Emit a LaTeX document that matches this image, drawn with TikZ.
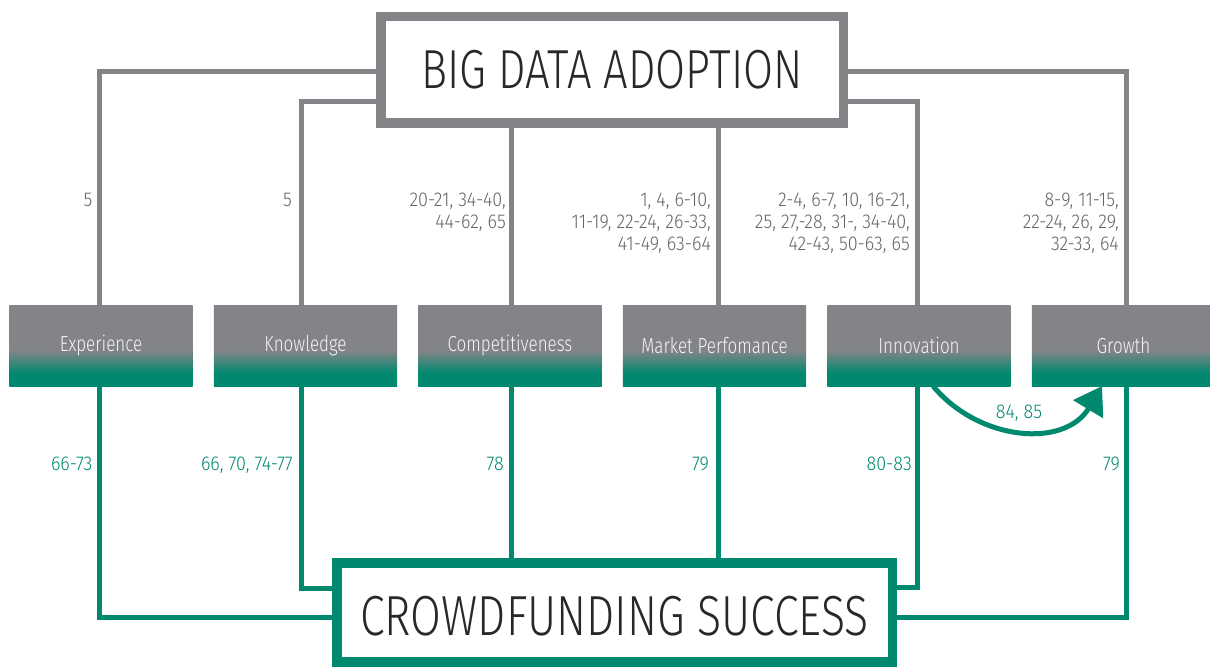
\documentclass[tikz,border=0pt]{standalone}
\usepackage{fontspec}
\usepackage{xcolor}
\usepackage{tikz}
\usetikzlibrary{positioning,arrows.meta}

\newfontfamily\condfont{Fira Sans Light}[FakeStretch=0.78]
\newfontfamily\labelfont{Fira Sans Light}[FakeStretch=0.90]
\newfontfamily\titlefont{Fira Sans Light}[FakeStretch=0.79]

\definecolor{bdgray}{RGB}{131,132,135}
\definecolor{cfgreen}{RGB}{0,137,111}
\definecolor{titlegray}{RGB}{40,40,42}
\definecolor{labelgray}{RGB}{100,101,104}
\pgfdeclareverticalshading{factorshade}{100bp}{color(0bp)=(cfgreen); color(33bp)=(cfgreen); color(47bp)=(bdgray); color(100bp)=(bdgray)}

\begin{document}
\begin{tikzpicture}[
      x=1pt, y=1pt,
      mainbox/.style={rectangle, draw, line width=9.5pt, fill=white, inner sep=0pt, outer sep=0pt, text=titlegray, font=\titlefont\fontsize{55}{60}\selectfont},
      factor/.style={rectangle, shade, shading=factorshade, minimum width=183.4pt, minimum height=81pt, inner sep=0pt, outer sep=0pt, text=white!92!bdgray, font=\condfont\fontsize{21.8}{24}\selectfont},
      gline/.style={draw=bdgray, line width=5pt},
      cline/.style={draw=cfgreen, line width=5pt},
      glabel/.style={anchor=north east, inner sep=0pt, align=right, text=labelgray, font=\labelfont\fontsize{20}{21.8}\selectfont},
      clabel/.style={glabel, text=cfgreen}
    ]

    \useasboundingbox (0,0) rectangle (1210,668);

    \node [mainbox, draw=bdgray, minimum width=462.5pt, minimum height=106.5pt] (bigdata) at (612,598) {BIG DATA ADOPTION};
    \node [mainbox, draw=cfgreen, minimum width=555.5pt, minimum height=99.25pt, text height=47pt, text depth=0pt, font=\titlefont\fontsize{56.5}{60}\selectfont] (crowd) at (614.5,55.6) {CROWDFUNDING SUCCESS};

    \node [factor] (exp) at (101,322.4) {Experience};
    \node [factor, right of=exp, node distance=204.5pt] (know) {Knowledge};
    \node [factor, right of=know, node distance=204.5pt] (comp) {Competitiveness};
    \node [factor, right of=comp, node distance=204.5pt] (market) {Market Perfomance};
    \node [factor, right of=market, node distance=204.5pt] (innov) {Innovation};
    \node [factor, right of=innov, node distance=204.5pt] (growth) {Growth};

    \coordinate (toprow) at (0,475);
    \coordinate (botrow) at (0,211);

    \path [gline] ([yshift=-2pt]bigdata.west) -| ([xshift=-1.8pt]exp.north);
    \path [gline] ([yshift=-32pt]bigdata.west) -| ([xshift=-3.7pt]know.north);
    \path [gline] ([xshift=1.8pt]comp.north) -- ([xshift=1.8pt]comp.north |- bigdata.south);
    \path [gline] ([xshift=4pt]market.north) -- ([xshift=4pt]market.north |- bigdata.south);
    \path [gline] ([yshift=-32pt]bigdata.east) -| ([xshift=-1.5pt]innov.north);
    \path [gline] ([yshift=-2pt]bigdata.east) -| ([xshift=3.2pt]growth.north);

    \path [cline] ([xshift=-1.8pt]exp.south) |- ([yshift=-5.5pt]crowd.west);
    \path [cline] ([xshift=-3.7pt]know.south) |- ([yshift=24pt]crowd.west);
    \path [cline] ([xshift=1.8pt]comp.south) -- ([xshift=1.8pt]comp.south |- crowd.north);
    \path [cline] ([xshift=4pt]market.south) -- ([xshift=4pt]market.south |- crowd.north);
    \path [cline] ([xshift=-1.5pt]innov.south) |- ([yshift=25pt]crowd.east);
    \path [cline] ([xshift=3.2pt]growth.south) |- ([yshift=-5pt]crowd.east);

    \path [cline, -{Triangle[length=27pt,width=34pt]}] ([xshift=14pt]innov.south) to[out=-50, in=-121, looseness=1.1] ([xshift=-21.5pt]growth.south);
    \node [clabel, anchor=center] at ([xshift=100pt, yshift=-26.7pt]innov.south) {84, 85};

    \node [glabel] at ([xshift=-8.4pt]exp.north |- toprow) {5};
    \node [glabel] at ([xshift=-13.5pt]know.north |- toprow) {5};
    \node [glabel] at ([xshift=-4pt]comp.north |- toprow) {20-21, 34-40,\\44-62, 65};
    \node [glabel] at ([xshift=-3.5pt]market.north |- toprow) {1, 4, 6-10,\\11-19, 22-24, 26-33,\\41-49, 63-64};
    \node [glabel] at ([xshift=-9pt]innov.north |- toprow) {2-4, 6-7, 10, 16-21,\\25, 27,-28, 31-, 34-40,\\42-43, 50-63, 65};
    \node [glabel] at ([xshift=-4.5pt]growth.north |- toprow) {8-9, 11-15,\\22-24, 26, 29,\\32-33, 64};

    \node [clabel] at ([xshift=-8.4pt]exp.south |- botrow) {66-73};
    \node [clabel] at ([xshift=-12.5pt]know.south |- botrow) {66, 70, 74-77};
    \node [clabel] at ([xshift=-6pt]comp.south |- botrow) {78};
    \node [clabel] at ([xshift=-5.5pt]market.south |- botrow) {79};
    \node [clabel] at ([xshift=-7pt]innov.south |- botrow) {80-83};
    \node [clabel] at ([xshift=-3.5pt]growth.south |- botrow) {79};

    \end{tikzpicture}
\end{document}
